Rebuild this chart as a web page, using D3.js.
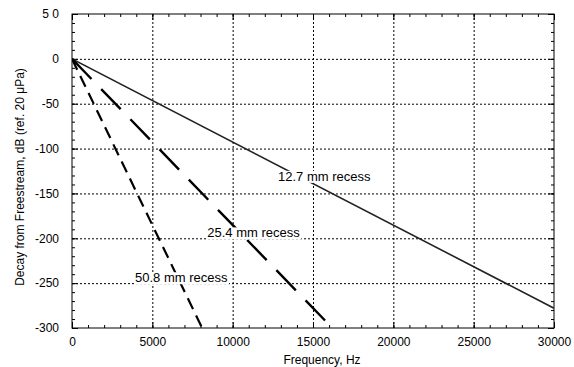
<!DOCTYPE html>
<html>
<head>
<meta charset="utf-8">
<script src="https://cdn.jsdelivr.net/npm/d3@7"></script>
<style>
body {margin:0; background:#fff;}
svg text {font-family:"Liberation Sans", Arial, sans-serif; fill:#000;}
.axis text {font-size:12px;}
.grid line {stroke:#000; stroke-width:1; stroke-dasharray:2,2;}
</style>
</head>
<body>
<svg id=chart width=574 height=367></svg>
<script>
// values (dB decay vs frequency)
var series_names=['12.7 mm recess','25.4 mm recess','50.8 mm recess'];
var freq_127=[0,30000];
var decay_127=[0,-278];
var freq_254=[0,16200];
var decay_254=[0,-300];
var freq_508=[0,8100];
var decay_508=[0,-300];
// where the curve labels sit, in data units
var label_freq=[15700,11300,6800];
var label_decay=[-136,-199,-249];

var x_ticks=[0,5000,10000,15000,20000,25000,30000];
var x_tick_labels=['0','5000','10000','15000','20000','25000','30000'];
var y_ticks=[50,0,-50,-100,-150,-200,-250,-300];
var y_tick_labels=['5 0','0','-50','-100','-150','-200','-250','-300'];

var marg_left=72, marg_top=14, W0=482, H0=314;

var svg=d3.select('#chart');
var xScale=d3.scaleLinear().domain([0,30000]).range([marg_left,marg_left+W0]);
var yScale=d3.scaleLinear().domain([-300,50]).range([marg_top+H0,marg_top]);

// dotted grid
svg.append('g').attr('class','grid')
	.attr('transform','translate(0,'+(marg_top+H0)+')')
	.call(d3.axisBottom(xScale).tickValues(x_ticks.slice(1,-1)).tickSize(-H0).tickFormat(''))
	.call(function(g) {g.select('.domain').remove();});
svg.append('g').attr('class','grid')
	.attr('transform','translate('+marg_left+',0)')
	.call(d3.axisLeft(yScale).tickValues(y_ticks.slice(1,-1)).tickSize(-W0).tickFormat(''))
	.call(function(g) {g.select('.domain').remove();});

var minor_x=d3.range(0,30001,1000);
var minor_y=d3.range(-300,51,10);

function tick_axis(axis,transform) {
	svg.append('g').attr('class','axis')
		.attr('transform',transform)
		.call(axis)
		.call(function(g) {g.select('.domain').remove(); g.selectAll('line').attr('stroke','#000');});
}
// minor ticks on all four sides, pointing in
tick_axis(d3.axisBottom(xScale).tickValues(minor_x).tickSize(-3).tickFormat(''),'translate(0,'+(marg_top+H0)+')');
tick_axis(d3.axisTop(xScale).tickValues(minor_x).tickSize(-3).tickFormat(''),'translate(0,'+marg_top+')');
tick_axis(d3.axisLeft(yScale).tickValues(minor_y).tickSize(-3).tickFormat(''),'translate('+marg_left+',0)');
tick_axis(d3.axisRight(yScale).tickValues(minor_y).tickSize(-3).tickFormat(''),'translate('+(marg_left+W0)+',0)');
// major ticks with labels
tick_axis(d3.axisBottom(xScale).tickValues(x_ticks).tickSize(-6).tickPadding(9)
	.tickFormat(function(d,i) {return x_tick_labels[i];}),'translate(0,'+(marg_top+H0)+')');
tick_axis(d3.axisLeft(yScale).tickValues(y_ticks).tickSize(-6).tickPadding(13)
	.tickFormat(function(d,i) {return y_tick_labels[i];}),'translate('+marg_left+',0)');
tick_axis(d3.axisRight(yScale).tickValues(y_ticks).tickSize(-6).tickFormat(''),'translate('+(marg_left+W0)+',0)');
tick_axis(d3.axisTop(xScale).tickValues(x_ticks).tickSize(-6).tickFormat(''),'translate(0,'+marg_top+')');

// frame
svg.append('rect')
	.attr('x',marg_left).attr('y',marg_top)
	.attr('width',W0).attr('height',H0)
	.attr('fill','none').attr('stroke','#000').attr('stroke-width',1);

// curves
var clip=svg.append('clipPath').attr('id','clip').append('rect')
	.attr('x',marg_left).attr('y',marg_top).attr('width',W0).attr('height',H0);
var line=d3.line().x(function(d) {return xScale(d[0]);}).y(function(d) {return yScale(d[1]);});
var curves=[
	{f:freq_127,v:decay_127,width:1.6,dash:null,color:'#222'},
	{f:freq_254,v:decay_254,width:2.4,dash:'28,14',color:'#000'},
	{f:freq_508,v:decay_508,width:2.2,dash:'12,7',color:'#000'}
];
curves.forEach(function(c) {
	var pts=c.f.map(function(f,i) {return [f,c.v[i]];});
	svg.append('path')
		.attr('d',line(pts))
		.attr('clip-path','url(#clip)')
		.attr('fill','none')
		.attr('stroke',c.color)
		.attr('stroke-width',c.width)
		.attr('stroke-dasharray',c.dash);
});

// curve labels on white boxes
var labels=svg.append('g');
for (var i=0; i<series_names.length; i++) {
	var lg=labels.append('g');
	var box=lg.append('rect').attr('fill','#fff');
	var t=lg.append('text')
		.attr('x',xScale(label_freq[i]))
		.attr('y',yScale(label_decay[i]))
		.attr('text-anchor','middle')
		.style('font-size','13px')
		.text(series_names[i]);
	var bb=t.node().getBBox();
	box.attr('x',bb.x-1).attr('y',bb.y+2)
		.attr('width',bb.width+2).attr('height',bb.height-3);
}

// axis titles
svg.append('text')
	.attr('x',marg_left+W0/2+9).attr('y',364)
	.attr('text-anchor','middle')
	.style('font-size','12px')
	.text('Frequency, Hz');
svg.append('text')
	.attr('transform','translate(24,'+(marg_top+H0/2+6)+') rotate(-90)')
	.attr('text-anchor','middle')
	.style('font-size','12px')
	.text('Decay from Freestream, dB (ref. 20 μPa)');
</script>
</body>
</html>
